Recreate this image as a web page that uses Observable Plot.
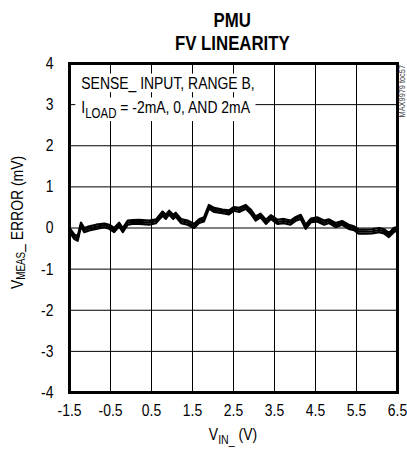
<!DOCTYPE html>
<html><head><meta charset="utf-8">
<script src="https://cdn.jsdelivr.net/npm/d3@7"></script>
<script src="https://cdn.jsdelivr.net/npm/@observablehq/plot@0.6"></script>
<style>
body{margin:0;background:#fff;font-family:"Liberation Sans",Arial,sans-serif;}
#title{margin-left:58px;width:349px;height:56px;box-sizing:border-box;padding-top:8.5px;text-align:center;font-weight:bold;font-size:20px;line-height:23px;color:#000;}
#title span{display:inline-block;transform:scaleX(0.84);transform-origin:50% 50%;}
#chart svg{display:block;}
</style></head><body>
<div id="title"><span>PMU</span><br><span>FV LINEARITY</span></div>
<div id="chart"></div>
<script>
const xTicks = [-1.5, -0.5, 0.5, 1.5, 2.5, 3.5, 4.5, 5.5, 6.5];
const yTicks = [-4, -3, -2, -1, 0, 1, 2, 3, 4];
const seriesNames = ["ILOAD = -2mA", "ILOAD = 0", "ILOAD = 2mA"];
const vin = [-1.50, -1.38, -1.30, -1.22, -1.14, -1.02, -0.85, -0.65, -0.53, -0.41,
  -0.29, -0.20, -0.08, 0.04, 0.20, 0.44, 0.61, 0.77, 0.85, 0.93,
  1.03, 1.09, 1.22, 1.38, 1.54, 1.66, 1.78, 1.90, 2.03, 2.23,
  2.39, 2.51, 2.64, 2.80, 2.92, 3.04, 3.16, 3.29, 3.41, 3.57,
  3.73, 3.89, 4.02, 4.14, 4.26, 4.39, 4.54, 4.71, 4.83, 4.99,
  5.15, 5.31, 5.44, 5.56, 5.72, 5.88, 6.05, 6.17, 6.29, 6.41,
  6.50];
const errNeg = [0.00, -0.16, -0.20, 0.13, 0.00, 0.04, 0.08, 0.11, 0.08, 0.00,
  0.13, 0.00, 0.18, 0.19, 0.20, 0.18, 0.21, 0.40, 0.32, 0.42,
  0.32, 0.37, 0.22, 0.18, 0.10, 0.21, 0.26, 0.56, 0.49, 0.45,
  0.43, 0.51, 0.49, 0.56, 0.45, 0.28, 0.35, 0.20, 0.31, 0.20,
  0.22, 0.18, 0.27, 0.32, 0.08, 0.23, 0.26, 0.18, 0.21, 0.12,
  0.17, 0.08, 0.04, -0.04, -0.04, -0.03, 0.00, -0.03, -0.12, 0.00,
  0.03];
const errZero = [-0.05, -0.21, -0.26, 0.09, -0.05, -0.01, 0.03, 0.07, 0.03, -0.05,
  0.09, -0.05, 0.13, 0.15, 0.15, 0.13, 0.17, 0.35, 0.27, 0.38,
  0.27, 0.33, 0.17, 0.13, 0.05, 0.17, 0.21, 0.52, 0.44, 0.41,
  0.38, 0.47, 0.44, 0.52, 0.40, 0.23, 0.31, 0.15, 0.27, 0.15,
  0.17, 0.13, 0.23, 0.27, 0.03, 0.19, 0.21, 0.13, 0.17, 0.07,
  0.13, 0.03, 0.00, -0.09, -0.09, -0.08, -0.05, -0.08, -0.17, -0.05,
  -0.01];
const errPos = [-0.10, -0.27, -0.31, 0.04, -0.10, -0.06, -0.02, 0.02, -0.02, -0.10,
  0.04, -0.10, 0.08, 0.10, 0.10, 0.08, 0.12, 0.30, 0.22, 0.33,
  0.22, 0.28, 0.12, 0.08, 0.00, 0.12, 0.16, 0.47, 0.39, 0.36,
  0.33, 0.42, 0.39, 0.47, 0.35, 0.18, 0.26, 0.10, 0.22, 0.10,
  0.12, 0.08, 0.18, 0.22, -0.02, 0.14, 0.16, 0.08, 0.12, 0.02,
  0.08, -0.02, -0.05, -0.14, -0.14, -0.13, -0.10, -0.13, -0.22, -0.10,
  -0.06];

const series = [errNeg, errZero, errPos];
const data = [];
series.forEach((ys, k) => ys.forEach((y, i) => data.push({series: seriesNames[k], x: vin[i], y})));

const FONT = '"Liberation Sans",Arial,sans-serif';
const plot = Plot.plot({
  width: 407, height: 394,
  marginTop: 7, marginBottom: 58, marginLeft: 69, marginRight: 10,
  style: {fontFamily: FONT, fontSize: "17px", color: "#000", background: "#fff", overflow: "visible"},
  x: {domain: [-1.5, 6.5]},
  y: {domain: [-4, 4]},
  marks: [
    Plot.gridX(xTicks, {stroke: "#000", strokeOpacity: 1, strokeWidth: 1}),
    Plot.gridY(yTicks, {stroke: "#000", strokeOpacity: 1, strokeWidth: 1}),
    Plot.line(data, {x: "x", y: "y", z: "series", stroke: "#000", strokeWidth: 2.2, strokeLinejoin: "round", curve: "linear"}),
    Plot.frame({stroke: "#000", strokeWidth: 3}),
    Plot.axisX(xTicks, {tickSize: 0, tickPadding: 11, label: null, tickFormat: d => d.toFixed(1), fontSize: 17}),
    Plot.axisY(yTicks, {tickSize: 0, tickPadding: 16, label: null, tickFormat: d => String(d), fontSize: 17})
  ]
});
document.getElementById("chart").appendChild(plot);

const sx = plot.scale("x"), sy = plot.scale("y");
const svg = d3.select(plot);
const g = svg.append("g").attr("font-family", FONT).attr("fill", "#000");

const ax = sx.apply(-1.2);
const l1 = g.append("text").attr("class", "note").attr("text-anchor", "start").attr("x", ax).attr("y", sy.apply(3.37)).attr("font-size", 17).text("SENSE_ INPUT, RANGE B,");
const l2 = g.append("text").attr("class", "note").attr("text-anchor", "start").attr("x", ax).attr("y", sy.apply(2.79)).attr("font-size", 17);
l2.append("tspan").text("I");
l2.append("tspan").attr("font-size", 14).attr("dy", 5).text("LOAD");
l2.append("tspan").attr("dy", -5).text(" = -2mA, 0, AND 2mA");

// x label
const cx = (sx.apply(-1.5) + sx.apply(6.5)) / 2;
const xl = g.append("text").attr("x", cx).attr("y", 384).attr("text-anchor", "middle").attr("font-size", 17);
xl.append("tspan").text("V");
xl.append("tspan").attr("font-size", 13).attr("dy", 4).text("IN_");
xl.append("tspan").attr("dy", -4).text(" (V)");

// y label
const cy = (sy.apply(-4) + sy.apply(4)) / 2;
const yl = g.append("text").attr("transform", `translate(23,${cy - 5}) rotate(-90)`).attr("text-anchor", "middle").attr("font-size", 17);
yl.append("tspan").text("V");
yl.append("tspan").attr("font-size", 12).attr("dy", 2).text("MEAS");
yl.append("tspan").attr("dy", -2).text("_ ERROR (mV)");

// figure id
g.append("text").attr("transform", `translate(405,${sy.apply(4) + 2}) rotate(-90)`).attr("text-anchor", "end").attr("font-size", 9).attr("fill", "#444").text("MAX9979 toc57");

// condense all text horizontally (narrow typeface look)
const K = 0.82;
svg.selectAll("text").each(function () {
  const x = +this.getAttribute("x") || 0, y = +this.getAttribute("y") || 0;
  const t = this.getAttribute("transform") || "";
  this.setAttribute("transform", `${t} translate(${x},${y}) scale(${K},1) translate(${-x},${-y})`);
});

// white boxes behind the note lines
[l1, l2].forEach(sel => {
  const node = sel.node();
  const b = node.getBBox();
  const x0 = +node.getAttribute("x");
  const left = x0 + (b.x - x0) * K, w = b.width * K;
  g.insert("rect", "text.note")
    .attr("x", left - 6).attr("y", b.y).attr("width", w + 11).attr("height", b.height)
    .attr("fill", "#fff");
});
</script>
</body></html>
